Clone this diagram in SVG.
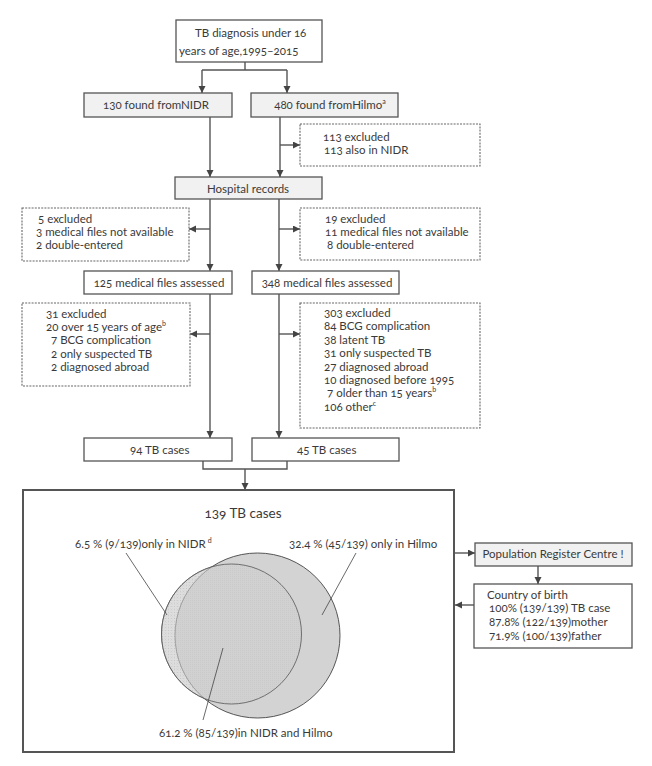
<svg xmlns="http://www.w3.org/2000/svg" width="652" height="766" viewBox="0 0 652 766">
<style>
text{font-family:Lato,"Noto Sans","DejaVu Sans",sans-serif;font-size:11.5px;fill:#3a3a3a;font-variant-numeric:oldstyle-nums}
.box{fill:#fff;stroke:#555;stroke-width:1.3}
.gbox{fill:#f1f1f1;stroke:#555;stroke-width:1.3}
.dash{fill:#fff;stroke:#666;stroke-width:1.1;stroke-dasharray:2 1.2}
.big{fill:#fff;stroke:#555;stroke-width:2}
.c{fill:none;stroke:#555;stroke-width:1.4}
.arr{marker-end:url(#ah)}
.lead{fill:none;stroke:#444;stroke-width:0.8}
.sup{font-size:7px}
</style>
<defs>
<marker id="ah" markerWidth="8" markerHeight="8" refX="7" refY="3.5" orient="auto" markerUnits="userSpaceOnUse">
<path d="M0,0 L7,3.5 L0,7 z" fill="#444"/>
</marker>
<pattern id="dots" width="3" height="3" patternUnits="userSpaceOnUse">
<rect width="3" height="3" fill="#f4f4f4"/>
<rect width="1" height="1" fill="#c8c8c8"/>
</pattern>
<pattern id="mesh" width="2" height="2" patternUnits="userSpaceOnUse">
<rect width="2" height="2" fill="#d0d0d0"/>
<rect width="1" height="1" fill="#c4c4c4"/>
</pattern>
</defs>

<g id="connectors">
<path class="c" d="M245 62 V70 M202 70 H287"/>
<path class="c arr" d="M202 70 V93"/>
<path class="c arr" d="M287 70 V93"/>
<path class="c arr" d="M210 117 V177"/>
<path class="c arr" d="M280 117 V177"/>
<path class="c arr" d="M280 145 H300"/>
<path class="c arr" d="M210 199 V271"/>
<path class="c arr" d="M210 229 H189"/>
<path class="c arr" d="M279 199 V271"/>
<path class="c arr" d="M279 229 H300"/>
<path class="c arr" d="M210 294 V438"/>
<path class="c arr" d="M210 334 H190"/>
<path class="c arr" d="M279 294 V438"/>
<path class="c arr" d="M279 334 H300"/>
<path class="c" d="M203 461 V469 H287 V461"/>
<path class="c arr" d="M245 469 V490"/>
<path class="c arr" d="M454 553 H475"/>
<path class="c arr" d="M538 566 V584"/>
<path class="c arr" d="M474 605 H455"/>
</g>

<g id="n-start">
<rect class="box" x="176" y="20" width="146" height="42"/>
<text x="195" y="37">TB diagnosis under 16</text>
<text x="179" y="55">years of age,1995–2015</text>
</g>
<g id="n-nidr">
<rect class="gbox" x="84" y="93" width="148" height="24"/>
<text x="156" y="109" text-anchor="middle">130 found fromNIDR</text>
</g>
<g id="n-hilmo">
<rect class="gbox" x="251" y="93" width="147" height="24"/>
<text x="330" y="109" text-anchor="middle">480 found fromHilmo<tspan class="sup" dy="-5">a</tspan></text>
</g>
<g id="n-excl113">
<rect class="dash" x="300" y="124" width="180" height="42"/>
<text x="323" y="141">113 excluded</text>
<text x="324" y="154">113 also in NIDR</text>
</g>
<g id="n-hospital">
<rect class="gbox" x="175" y="177" width="147" height="22"/>
<text x="248" y="193" text-anchor="middle">Hospital records</text>
</g>
<g id="n-excl5">
<rect class="dash" x="22" y="208" width="167" height="53"/>
<text x="38" y="223">5 excluded</text>
<text x="36" y="236">3 medical files not available</text>
<text x="36" y="249">2 double-entered</text>
</g>
<g id="n-excl19">
<rect class="dash" x="300" y="208" width="180" height="52"/>
<text x="325" y="223">19 excluded</text>
<text x="325" y="236">11 medical files not available</text>
<text x="327" y="249">8 double-entered</text>
</g>
<g id="n-assessed125">
<rect class="box" x="84" y="271" width="148" height="23"/>
<text x="159" y="287" text-anchor="middle">125 medical files assessed</text>
</g>
<g id="n-assessed348">
<rect class="box" x="252" y="271" width="147" height="23"/>
<text x="327" y="287" text-anchor="middle">348 medical files assessed</text>
</g>
<g id="n-excl31">
<rect class="dash" x="22" y="303" width="168" height="83"/>
<text x="46" y="318">31 excluded</text>
<text x="46" y="331">20 over 15 years of age<tspan class="sup" dy="-5">b</tspan></text>
<text x="51" y="344">7 BCG  complication</text>
<text x="51" y="358">2 only suspected TB</text>
<text x="51" y="371">2 diagnosed abroad</text>
</g>
<g id="n-excl303">
<rect class="dash" x="300" y="303" width="180" height="125"/>
<text x="324" y="317">303 excluded</text>
<text x="324" y="330">84 BCG  complication</text>
<text x="324" y="344">38 latent TB</text>
<text x="324" y="357">31 only suspected TB</text>
<text x="324" y="371">27 diagnosed abroad</text>
<text x="324" y="384">10 diagnosed before 1995</text>
<text x="327" y="397">7 older than 15 years<tspan class="sup" dy="-5">b</tspan></text>
<text x="324" y="411">106 other<tspan class="sup" dy="-5">c</tspan></text>
</g>
<g id="n-tb94">
<rect class="box" x="84" y="438" width="148" height="23"/>
<text x="130" y="454">94 TB cases</text>
</g>
<g id="n-tb45">
<rect class="box" x="252" y="438" width="147" height="23"/>
<text x="297" y="454">45 TB cases</text>
</g>

<g id="n-total">
<rect class="big" x="23" y="490" width="431" height="262"/>
<text x="243" y="518" text-anchor="middle" style="font-size:13.5px">139 TB cases</text>
<circle cx="231.5" cy="634" r="70" fill="url(#dots)" stroke="#555" stroke-width="0.8"/>
<circle cx="257.5" cy="635.5" r="82.5" fill="#d3d3d3" stroke="#444" stroke-width="0.9"/>
<circle cx="231.5" cy="634" r="70" fill="url(#mesh)" fill-opacity="0.6" stroke="#555" stroke-width="0.8"/>
<path class="lead" d="M126 553 L167 615"/>
<path class="lead" d="M356 553 L322 615"/>
<path class="lead" d="M223 648 L203 720"/>
<text x="75" y="548">6.5 % (9/139)only in NIDR<tspan class="sup" dx="2" dy="-5">d</tspan></text>
<text x="289" y="548">32.4 % (45/139) only in Hilmo</text>
<text x="159" y="737">61.2 % (85/139)in NIDR and Hilmo</text>
</g>

<g id="n-population">
<rect class="gbox" x="475" y="543" width="157" height="23"/>
<text x="553" y="558" text-anchor="middle">Population Register Centre !</text>
</g>
<g id="n-country">
<rect class="box" x="474" y="584" width="158" height="64"/>
<text x="487" y="599">Country of birth</text>
<text x="489" y="612">100%  (139/139) TB case</text>
<text x="489" y="626">87.8%  (122/139)mother</text>
<text x="489" y="640">71.9%   (100/139)father</text>
</g>
</svg>
